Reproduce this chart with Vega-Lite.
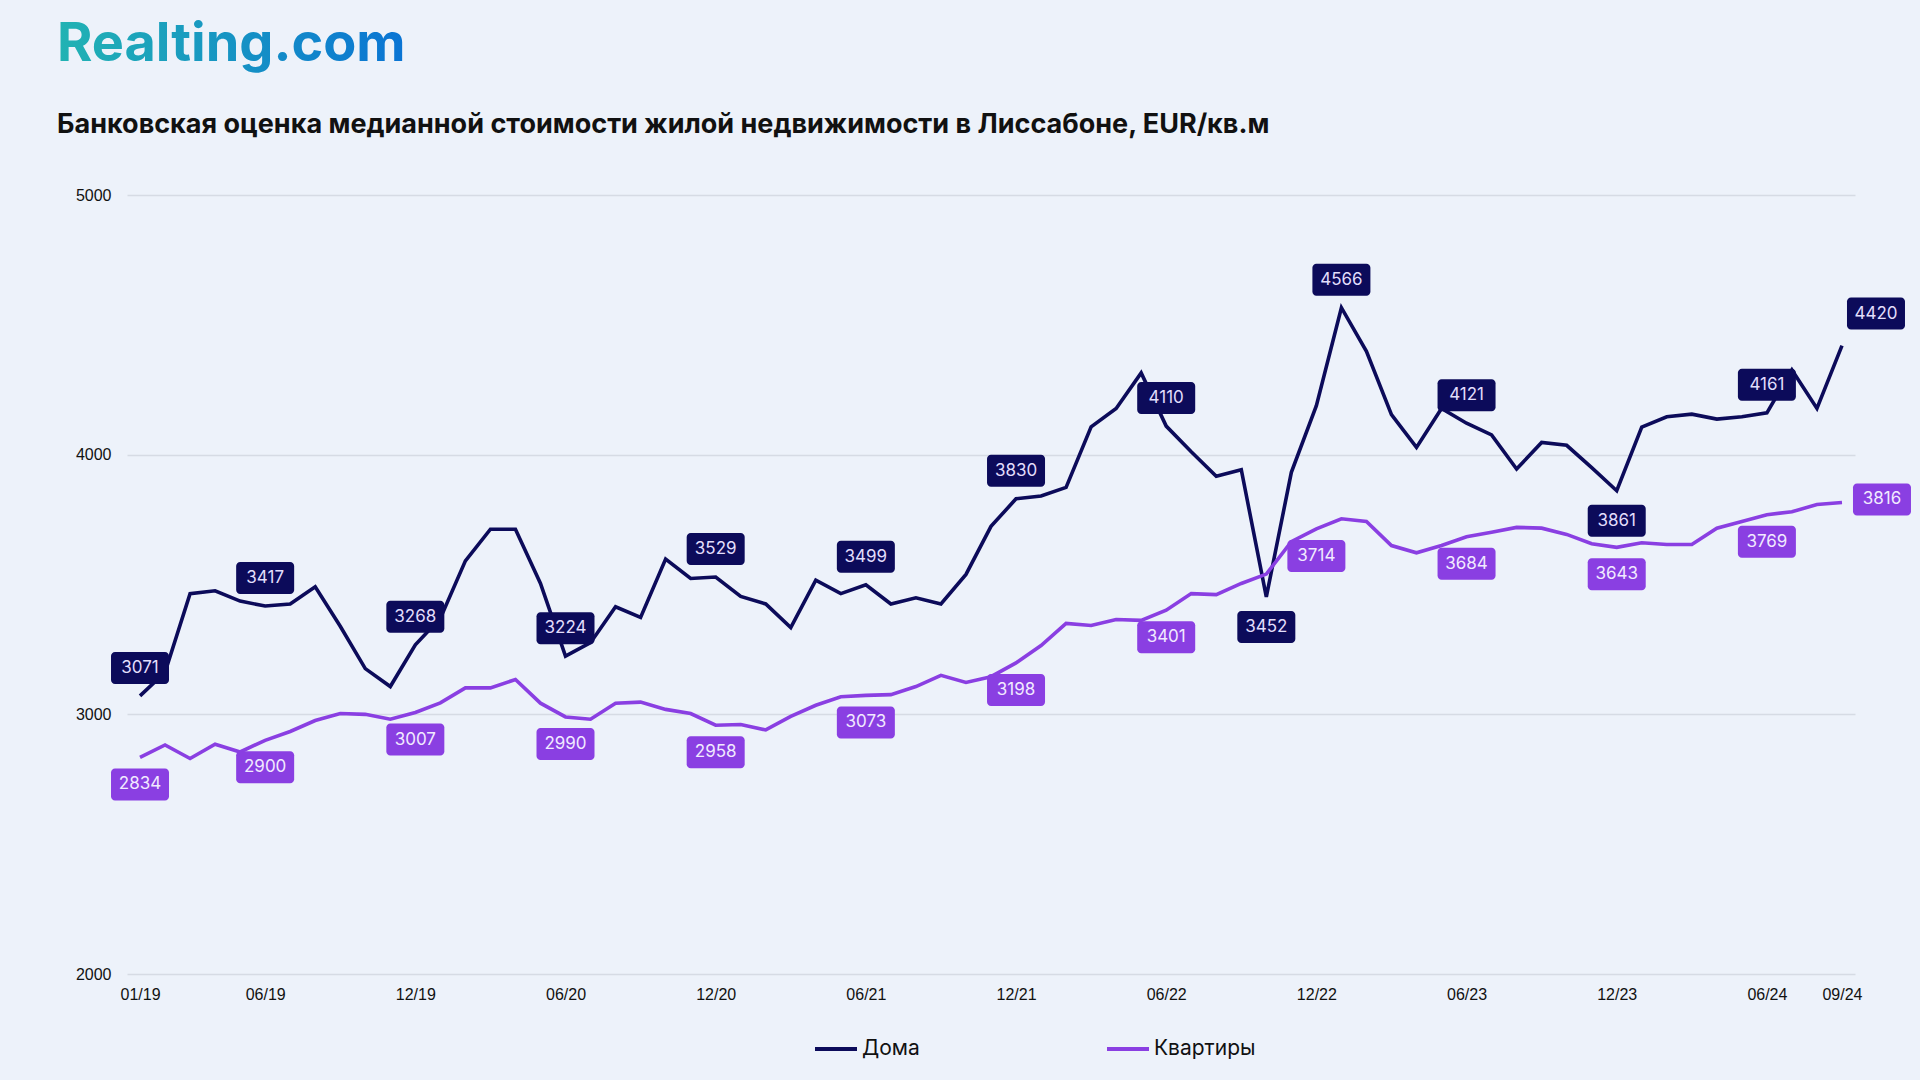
{
  "$schema": "https://vega.github.io/schema/vega-lite/v6.json",
  "width": 1728,
  "height": 779,
  "padding": {"left": 57, "top": 18, "right": 65, "bottom": 30},
  "background": "#edf2fa",
  "title": {
    "text": "Realting.com",
    "subtitle": "Банковская оценка медианной стоимости жилой недвижимости в Лиссабоне, EUR/кв.м",
    "anchor": "start",
    "frame": "bounds",
    "font": "Inter",
    "fontSize": 54,
    "fontWeight": "bold",
    "color": "#1597c8",
    "encoding": {"fill": {"value": {"gradient": "linear", "x1": 0, "y1": 0, "x2": 1, "y2": 0, "stops": [{"offset": 0, "color": "#22b3b3"}, {"offset": 1, "color": "#0a74d4"}]}}},
    "subtitleFont": "Inter",
    "subtitleFontSize": 27,
    "subtitleFontWeight": "bold",
    "subtitleColor": "#111111",
    "subtitlePadding": 40,
    "offset": 49
  },
  "config": {
    "view": {"stroke": null},
    "axis": {"labelFont": "Liberation Sans", "labelFontSize": 16, "labelColor": "#111111", "domain": false, "ticks": false, "tickSize": 0, "title": null}
  },
  "data": {
    "values": [
      {"ym": "2019-01", "type": "Дома", "value": 3071, "kind": "peak"},
      {"ym": "2019-02", "type": "Дома", "value": 3162},
      {"ym": "2019-03", "type": "Дома", "value": 3465},
      {"ym": "2019-04", "type": "Дома", "value": 3476},
      {"ym": "2019-05", "type": "Дома", "value": 3436},
      {"ym": "2019-06", "type": "Дома", "value": 3417, "kind": "peak"},
      {"ym": "2019-07", "type": "Дома", "value": 3425},
      {"ym": "2019-08", "type": "Дома", "value": 3491},
      {"ym": "2019-09", "type": "Дома", "value": 3339},
      {"ym": "2019-10", "type": "Дома", "value": 3176},
      {"ym": "2019-11", "type": "Дома", "value": 3107},
      {"ym": "2019-12", "type": "Дома", "value": 3268, "kind": "peak"},
      {"ym": "2020-01", "type": "Дома", "value": 3370},
      {"ym": "2020-02", "type": "Дома", "value": 3591},
      {"ym": "2020-03", "type": "Дома", "value": 3713},
      {"ym": "2020-04", "type": "Дома", "value": 3713},
      {"ym": "2020-05", "type": "Дома", "value": 3504},
      {"ym": "2020-06", "type": "Дома", "value": 3224, "kind": "peak"},
      {"ym": "2020-07", "type": "Дома", "value": 3276},
      {"ym": "2020-08", "type": "Дома", "value": 3414},
      {"ym": "2020-09", "type": "Дома", "value": 3373},
      {"ym": "2020-10", "type": "Дома", "value": 3598},
      {"ym": "2020-11", "type": "Дома", "value": 3523},
      {"ym": "2020-12", "type": "Дома", "value": 3529, "kind": "peak"},
      {"ym": "2021-01", "type": "Дома", "value": 3454},
      {"ym": "2021-02", "type": "Дома", "value": 3425},
      {"ym": "2021-03", "type": "Дома", "value": 3334},
      {"ym": "2021-04", "type": "Дома", "value": 3517},
      {"ym": "2021-05", "type": "Дома", "value": 3465},
      {"ym": "2021-06", "type": "Дома", "value": 3499, "kind": "peak"},
      {"ym": "2021-07", "type": "Дома", "value": 3425},
      {"ym": "2021-08", "type": "Дома", "value": 3449},
      {"ym": "2021-09", "type": "Дома", "value": 3425},
      {"ym": "2021-10", "type": "Дома", "value": 3539},
      {"ym": "2021-11", "type": "Дома", "value": 3724},
      {"ym": "2021-12", "type": "Дома", "value": 3830, "kind": "peak"},
      {"ym": "2022-01", "type": "Дома", "value": 3841},
      {"ym": "2022-02", "type": "Дома", "value": 3874},
      {"ym": "2022-03", "type": "Дома", "value": 4107},
      {"ym": "2022-04", "type": "Дома", "value": 4178},
      {"ym": "2022-05", "type": "Дома", "value": 4315},
      {"ym": "2022-06", "type": "Дома", "value": 4110, "kind": "peak"},
      {"ym": "2022-07", "type": "Дома", "value": 4011},
      {"ym": "2022-08", "type": "Дома", "value": 3917},
      {"ym": "2022-09", "type": "Дома", "value": 3942},
      {"ym": "2022-10", "type": "Дома", "value": 3452, "kind": "trough"},
      {"ym": "2022-11", "type": "Дома", "value": 3932},
      {"ym": "2022-12", "type": "Дома", "value": 4189},
      {"ym": "2023-01", "type": "Дома", "value": 4566, "kind": "peak"},
      {"ym": "2023-02", "type": "Дома", "value": 4398},
      {"ym": "2023-03", "type": "Дома", "value": 4154},
      {"ym": "2023-04", "type": "Дома", "value": 4028},
      {"ym": "2023-05", "type": "Дома", "value": 4178},
      {"ym": "2023-06", "type": "Дома", "value": 4121, "kind": "peak"},
      {"ym": "2023-07", "type": "Дома", "value": 4076},
      {"ym": "2023-08", "type": "Дома", "value": 3945},
      {"ym": "2023-09", "type": "Дома", "value": 4047},
      {"ym": "2023-10", "type": "Дома", "value": 4036},
      {"ym": "2023-11", "type": "Дома", "value": 3950},
      {"ym": "2023-12", "type": "Дома", "value": 3861, "kind": "trough"},
      {"ym": "2024-01", "type": "Дома", "value": 4106},
      {"ym": "2024-02", "type": "Дома", "value": 4146},
      {"ym": "2024-03", "type": "Дома", "value": 4156},
      {"ym": "2024-04", "type": "Дома", "value": 4137},
      {"ym": "2024-05", "type": "Дома", "value": 4146},
      {"ym": "2024-06", "type": "Дома", "value": 4161, "kind": "peak"},
      {"ym": "2024-07", "type": "Дома", "value": 4326},
      {"ym": "2024-08", "type": "Дома", "value": 4178},
      {"ym": "2024-09", "type": "Дома", "value": 4420, "kind": "end"},
      {"ym": "2019-01", "type": "Квартиры", "value": 2834, "kind": "point"},
      {"ym": "2019-02", "type": "Квартиры", "value": 2882},
      {"ym": "2019-03", "type": "Квартиры", "value": 2830},
      {"ym": "2019-04", "type": "Квартиры", "value": 2885},
      {"ym": "2019-05", "type": "Квартиры", "value": 2855},
      {"ym": "2019-06", "type": "Квартиры", "value": 2900, "kind": "point"},
      {"ym": "2019-07", "type": "Квартиры", "value": 2934},
      {"ym": "2019-08", "type": "Квартиры", "value": 2976},
      {"ym": "2019-09", "type": "Квартиры", "value": 3003},
      {"ym": "2019-10", "type": "Квартиры", "value": 3000},
      {"ym": "2019-11", "type": "Квартиры", "value": 2981},
      {"ym": "2019-12", "type": "Квартиры", "value": 3007, "kind": "point"},
      {"ym": "2020-01", "type": "Квартиры", "value": 3044},
      {"ym": "2020-02", "type": "Квартиры", "value": 3102},
      {"ym": "2020-03", "type": "Квартиры", "value": 3102},
      {"ym": "2020-04", "type": "Квартиры", "value": 3134},
      {"ym": "2020-05", "type": "Квартиры", "value": 3043},
      {"ym": "2020-06", "type": "Квартиры", "value": 2990, "kind": "point"},
      {"ym": "2020-07", "type": "Квартиры", "value": 2981},
      {"ym": "2020-08", "type": "Квартиры", "value": 3043},
      {"ym": "2020-09", "type": "Квартиры", "value": 3047},
      {"ym": "2020-10", "type": "Квартиры", "value": 3019},
      {"ym": "2020-11", "type": "Квартиры", "value": 3003},
      {"ym": "2020-12", "type": "Квартиры", "value": 2958, "kind": "point"},
      {"ym": "2021-01", "type": "Квартиры", "value": 2961},
      {"ym": "2021-02", "type": "Квартиры", "value": 2940},
      {"ym": "2021-03", "type": "Квартиры", "value": 2992},
      {"ym": "2021-04", "type": "Квартиры", "value": 3035},
      {"ym": "2021-05", "type": "Квартиры", "value": 3068},
      {"ym": "2021-06", "type": "Квартиры", "value": 3073, "kind": "point"},
      {"ym": "2021-07", "type": "Квартиры", "value": 3076},
      {"ym": "2021-08", "type": "Квартиры", "value": 3107},
      {"ym": "2021-09", "type": "Квартиры", "value": 3150},
      {"ym": "2021-10", "type": "Квартиры", "value": 3123},
      {"ym": "2021-11", "type": "Квартиры", "value": 3145},
      {"ym": "2021-12", "type": "Квартиры", "value": 3198, "kind": "point"},
      {"ym": "2022-01", "type": "Квартиры", "value": 3265},
      {"ym": "2022-02", "type": "Квартиры", "value": 3350},
      {"ym": "2022-03", "type": "Квартиры", "value": 3342},
      {"ym": "2022-04", "type": "Квартиры", "value": 3365},
      {"ym": "2022-05", "type": "Квартиры", "value": 3362},
      {"ym": "2022-06", "type": "Квартиры", "value": 3401, "kind": "point"},
      {"ym": "2022-07", "type": "Квартиры", "value": 3465},
      {"ym": "2022-08", "type": "Квартиры", "value": 3461},
      {"ym": "2022-09", "type": "Квартиры", "value": 3504},
      {"ym": "2022-10", "type": "Квартиры", "value": 3540},
      {"ym": "2022-11", "type": "Квартиры", "value": 3665},
      {"ym": "2022-12", "type": "Квартиры", "value": 3714, "kind": "point"},
      {"ym": "2023-01", "type": "Квартиры", "value": 3753},
      {"ym": "2023-02", "type": "Квартиры", "value": 3743},
      {"ym": "2023-03", "type": "Квартиры", "value": 3650},
      {"ym": "2023-04", "type": "Квартиры", "value": 3622},
      {"ym": "2023-05", "type": "Квартиры", "value": 3650},
      {"ym": "2023-06", "type": "Квартиры", "value": 3684, "kind": "point"},
      {"ym": "2023-07", "type": "Квартиры", "value": 3701},
      {"ym": "2023-08", "type": "Квартиры", "value": 3720},
      {"ym": "2023-09", "type": "Квартиры", "value": 3717},
      {"ym": "2023-10", "type": "Квартиры", "value": 3693},
      {"ym": "2023-11", "type": "Квартиры", "value": 3657},
      {"ym": "2023-12", "type": "Квартиры", "value": 3643, "kind": "point"},
      {"ym": "2024-01", "type": "Квартиры", "value": 3661},
      {"ym": "2024-02", "type": "Квартиры", "value": 3654},
      {"ym": "2024-03", "type": "Квартиры", "value": 3654},
      {"ym": "2024-04", "type": "Квартиры", "value": 3717},
      {"ym": "2024-05", "type": "Квартиры", "value": 3743},
      {"ym": "2024-06", "type": "Квартиры", "value": 3769, "kind": "point"},
      {"ym": "2024-07", "type": "Квартиры", "value": 3780},
      {"ym": "2024-08", "type": "Квартиры", "value": 3808},
      {"ym": "2024-09", "type": "Квартиры", "value": 3816, "kind": "end"}
    ]
  },
  "encoding": {
    "x": {
      "field": "ym",
      "type": "ordinal",
      "scale": {"type": "point", "padding": 0.52},
      "axis": {
        "values": ["2019-01", "2019-06", "2019-12", "2020-06", "2020-12", "2021-06", "2021-12", "2022-06", "2022-12", "2023-06", "2023-12", "2024-06", "2024-09"],
        "labelExpr": "slice(datum.value, 5, 7) + '/' + slice(datum.value, 2, 4)",
        "labelAngle": 0,
        "labelPadding": 12,
        "grid": false
      }
    },
    "y": {
      "field": "value",
      "type": "quantitative",
      "scale": {"domain": [2000, 5000], "nice": false, "zero": false},
      "axis": {"values": [2000, 3000, 4000, 5000], "format": "d", "grid": true, "gridColor": "#d6dbe4", "gridWidth": 1.5, "labelPadding": 16, "minExtent": 70}
    }
  },
  "layer": [
    {
      "mark": {"type": "line", "strokeWidth": 3.6, "strokeJoin": "miter"},
      "encoding": {
        "color": {
          "field": "type",
          "type": "nominal",
          "scale": {"domain": ["Дома", "Квартиры"], "range": ["#0c0b5a", "#8a3fe2"]},
          "legend": {
            "title": null,
            "orient": "none",
            "direction": "horizontal",
            "legendX": 686,
            "legendY": 831,
            "padding": 0,
            "symbolType": "stroke",
            "symbolSize": 1764,
            "symbolStrokeWidth": 4,
            "labelFont": "Inter",
            "labelFontSize": 21,
            "labelColor": "#111111",
            "labelOffset": 3,
            "columnPadding": 179
          }
        }
      }
    },
    {
      "transform": [{"filter": "datum.kind == 'peak'"}],
      "mark": {"type": "rect", "width": 58, "height": 32, "cornerRadius": 4, "yOffset": -28, "color": "#0c0b5a"}
    },
    {
      "transform": [{"filter": "datum.kind == 'peak'"}],
      "mark": {"type": "text", "font": "Inter", "fontSize": 17, "yOffset": -28, "color": "#e2defc"},
      "encoding": {"text": {"field": "value", "type": "quantitative", "format": "d"}}
    },
    {
      "transform": [{"filter": "datum.kind == 'trough'"}],
      "mark": {"type": "rect", "width": 58, "height": 32, "cornerRadius": 4, "yOffset": 30, "color": "#0c0b5a"}
    },
    {
      "transform": [{"filter": "datum.kind == 'trough'"}],
      "mark": {"type": "text", "font": "Inter", "fontSize": 17, "yOffset": 30, "color": "#e2defc"},
      "encoding": {"text": {"field": "value", "type": "quantitative", "format": "d"}}
    },
    {
      "transform": [{"filter": "datum.kind == 'point'"}],
      "mark": {"type": "rect", "width": 58, "height": 32, "cornerRadius": 4, "yOffset": 27, "color": "#8a3fe2"}
    },
    {
      "transform": [{"filter": "datum.kind == 'point'"}],
      "mark": {"type": "text", "font": "Inter", "fontSize": 17, "yOffset": 27, "color": "#f1eaff"},
      "encoding": {"text": {"field": "value", "type": "quantitative", "format": "d"}}
    },
    {
      "transform": [{"filter": "datum.kind == 'end' && datum.type == 'Дома'"}],
      "mark": {"type": "rect", "width": 58, "height": 32, "cornerRadius": 4, "xOffset": 34, "yOffset": -32, "color": "#0c0b5a"}
    },
    {
      "transform": [{"filter": "datum.kind == 'end' && datum.type == 'Дома'"}],
      "mark": {"type": "text", "font": "Inter", "fontSize": 17, "xOffset": 34, "yOffset": -32, "color": "#e2defc"},
      "encoding": {"text": {"field": "value", "type": "quantitative", "format": "d"}}
    },
    {
      "transform": [{"filter": "datum.kind == 'end' && datum.type == 'Квартиры'"}],
      "mark": {"type": "rect", "width": 58, "height": 32, "cornerRadius": 4, "xOffset": 40, "yOffset": -3, "color": "#8a3fe2"}
    },
    {
      "transform": [{"filter": "datum.kind == 'end' && datum.type == 'Квартиры'"}],
      "mark": {"type": "text", "font": "Inter", "fontSize": 17, "xOffset": 40, "yOffset": -3, "color": "#f1eaff"},
      "encoding": {"text": {"field": "value", "type": "quantitative", "format": "d"}}
    }
  ]
}
